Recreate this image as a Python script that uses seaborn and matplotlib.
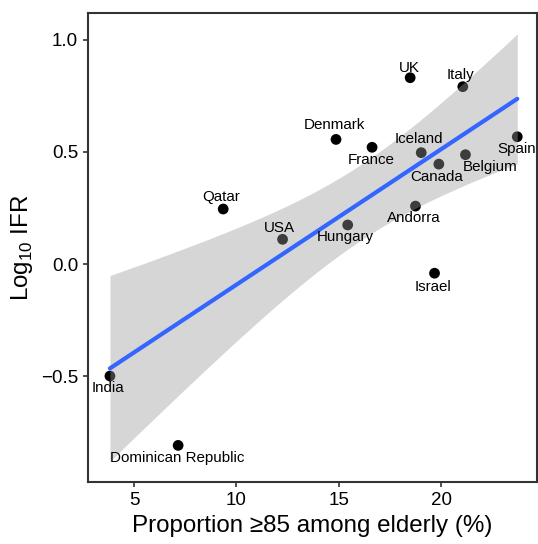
import matplotlib
matplotlib.use("Agg")
import matplotlib.pyplot as plt
import seaborn as sns
import pandas as pd
import numpy as np

# dados
paises = ["India", "Dominican Republic", "Qatar", "USA", "Hungary", "Denmark",
          "France", "UK", "Iceland", "Canada", "Belgium", "Spain", "Andorra",
          "Israel", "Italy"]
prop85 = [3.82, 7.15, 9.35, 12.25, 15.43, 14.86, 16.62, 18.48, 19.02, 19.88,
          21.18, 23.71, 18.74, 19.67, 21.05]
log_ifr = [-0.499, -0.808, 0.245, 0.110, 0.174, 0.555, 0.520, 0.830, 0.496,
           0.445, 0.487, 0.567, 0.258, -0.041, 0.790]

# deslocamento dos rótulos (pixels)
OFFSETS = {
    "India": (-2, -12), "Dominican Republic": (-1, -13), "Qatar": (-2, 12),
    "USA": (-3, 11), "Hungary": (-2, -12), "Denmark": (-2, 14),
    "France": (-1, -13), "UK": (-1, 10), "Iceland": (-2, 14),
    "Canada": (-2, -13), "Belgium": (25, -12), "Spain": (-1, -12),
    "Andorra": (-2, -12), "Israel": (-2, -14), "Italy": (-2, 12),
}

df = pd.DataFrame({"pais": paises, "prop85": prop85, "log_ifr": log_ifr})


def banda_ic(x, y, grade):
    # IC 95% analítico da reta (como geom_smooth(method = "lm"))
    x = np.asarray(x)
    y = np.asarray(y)
    n = len(x)
    b1, b0 = np.polyfit(x, y, 1)
    resid = y - (b0 + b1 * x)
    s = np.sqrt(np.sum(resid ** 2) / (n - 2))
    sxx = np.sum((x - x.mean()) ** 2)
    se = s * np.sqrt(1 / n + (grade - x.mean()) ** 2 / sxx)
    t = 2.160369  # t(0.975, 13)
    ajuste = b0 + b1 * grade
    return ajuste - t * se, ajuste + t * se


sns.set_style("ticks")
plt.rcParams["font.family"] = ["Liberation Sans", "DejaVu Sans"]

fig, ax = plt.subplots(figsize=(5.38, 5.44), dpi=100)

sns.scatterplot(data=df, x="prop85", y="log_ifr", color="black", s=60,
                edgecolor="none", ax=ax, zorder=1)

grade = np.linspace(min(prop85), max(prop85), 200)
inf, sup = banda_ic(prop85, log_ifr, grade)
ax.fill_between(grade, inf, sup, color="#999999", alpha=0.4, linewidth=0, zorder=2)

sns.regplot(data=df, x="prop85", y="log_ifr", scatter=False, ci=None,
            color="#3366FF", line_kws={"linewidth": 3.0, "zorder": 3},
            truncate=True, ax=ax)

for _, r in df.iterrows():
    dx, dy = OFFSETS[r["pais"]]
    ax.annotate(r["pais"], (r["prop85"], r["log_ifr"]), xytext=(dx, dy),
                textcoords="offset pixels", ha="center", va="center",
                fontsize=10.9, color="black", zorder=4)

ax.set_xlim(2.76, 24.67)
ax.set_ylim(-0.971, 1.118)
ax.set_xticks([5, 10, 15, 20])
ax.set_yticks([-0.5, 0.0, 0.5, 1.0])
ax.set_yticklabels(["\u22120.5", "0.0", "0.5", "1.0"])

ax.set_xlabel("Proportion \u226585 among elderly (%)", fontsize=17.4, color="black")
ax.set_ylabel("Log$_{\\mathregular{10}}$ IFR", fontsize=17.4, color="black")
ax.tick_params(axis="both", labelsize=13.5, colors="#333333", labelcolor="black",
               length=3.8, width=1.2)
for sp in ax.spines.values():
    sp.set_visible(True)
    sp.set_color("#333333")
    sp.set_linewidth(1.5)

fig.subplots_adjust(left=0.164, right=0.998, top=0.976, bottom=0.114)
fig.savefig("out.png", dpi=100)
plt.close(fig)
